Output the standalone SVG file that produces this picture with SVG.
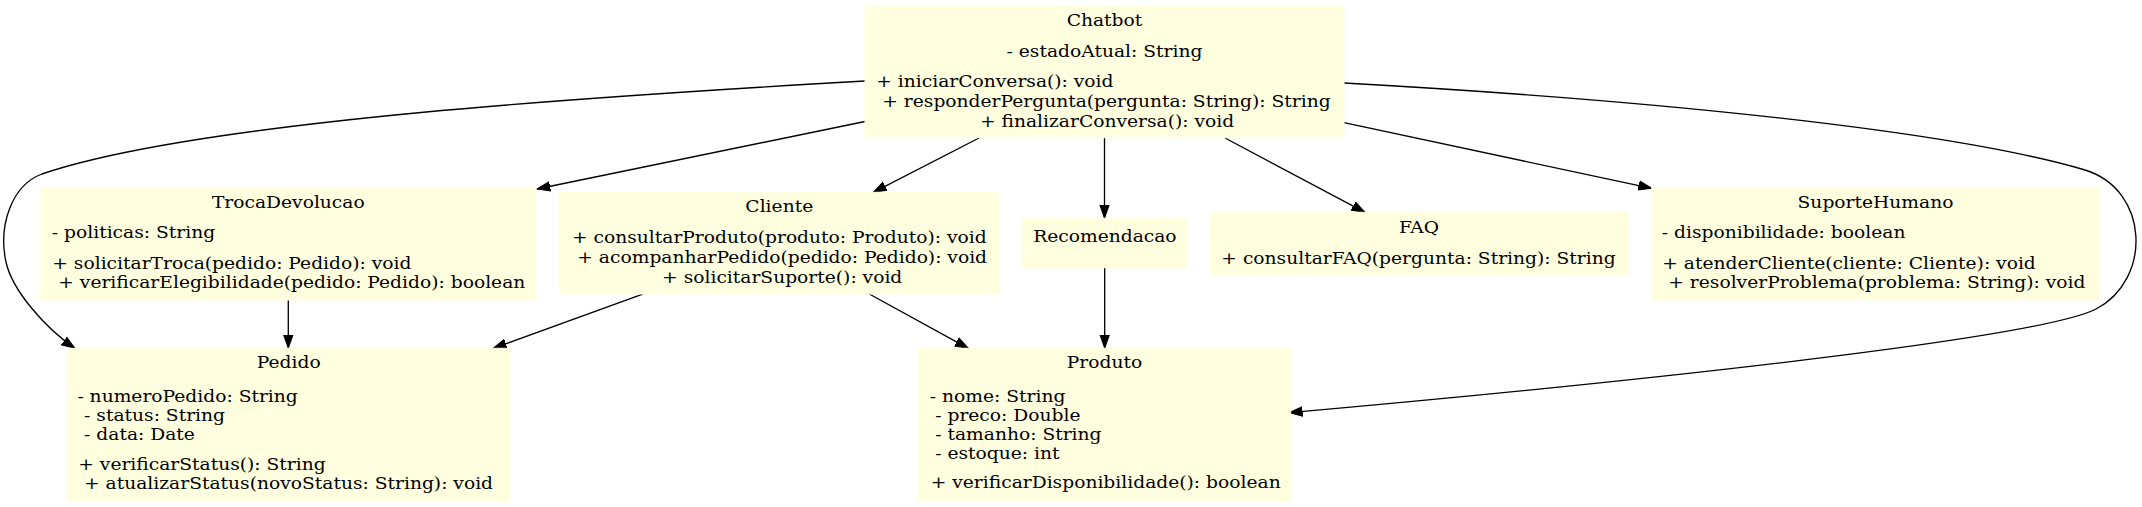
<svg xmlns="http://www.w3.org/2000/svg" width="2142" height="507" viewBox="0 0 2142 507">
<style>
.box{fill:#ffffe0;stroke:#ffffe0;stroke-width:1}
text{font-family:"DejaVu Serif","Liberation Serif",serif;font-size:18.67px;fill:#000}
.c{text-anchor:middle}
.edge{fill:none;stroke:#000;stroke-width:1.33}
</style>
<defs>
<marker id="arr" markerUnits="userSpaceOnUse" markerWidth="16" markerHeight="12" refX="13.3" refY="0" viewBox="0 -6 16 12" orient="auto">
<path d="M0,-4.67 L13.3,0 L0,4.67 Z" fill="#000" stroke="#000" stroke-width="1"/>
</marker>
</defs>
<rect width="2142" height="507" fill="#fff"/>
<g id="connectors">
<path class="edge" marker-end="url(#arr)" d="M865,81 C620,95 200,120 42,174 C12,185 -2,225 6,262 C12,290 45,328 75,348.3"/>
<path class="edge" marker-end="url(#arr)" d="M865,121.5 L537,189"/>
<path class="edge" marker-end="url(#arr)" d="M979,138 L873.3,192.3"/>
<path class="edge" marker-end="url(#arr)" d="M1104.5,138 L1104.5,218.3"/>
<path class="edge" marker-end="url(#arr)" d="M1225,138 L1365,212.3"/>
<path class="edge" marker-end="url(#arr)" d="M1344,122.7 L1651.7,188.3"/>
<path class="edge" marker-end="url(#arr)" d="M1344,83 C1650,100 1950,130 2085,170 C2150,190 2152,280 2096,309 C2036,340 1600,385 1289.3,412.7"/>
<path class="edge" marker-end="url(#arr)" d="M288.3,300 L288.3,348.3"/>
<path class="edge" marker-end="url(#arr)" d="M642.7,294 L493.3,348.3"/>
<path class="edge" marker-end="url(#arr)" d="M869.3,294 L968.3,348.3"/>
<path class="edge" marker-end="url(#arr)" d="M1104.7,267.7 L1104.7,348.3"/>
</g>
<g id="Chatbot">
<rect class="box" x="865" y="6" width="479" height="131.7"/>
<g transform="scale(1,0.86)">
<text class="c" x="1104.5" y="30.23">Chatbot</text>
<text class="c" x="1104.5" y="66.63">- estadoAtual: String</text>
<text x="876.3" y="101.5">+ iniciarConversa(): void</text>
<text x="882.3" y="124.65">+ responderPergunta(pergunta: String): String</text>
<text class="c" x="1107" y="147.7">+ finalizarConversa(): void</text>
</g>
</g>
<g id="TrocaDevolucao">
<rect class="box" x="40.7" y="187.3" width="495.3" height="112.7"/>
<g transform="scale(1,0.86)">
<text class="c" x="288.3" y="241.51">TrocaDevolucao</text>
<text x="51.8" y="277.09">- politicas: String</text>
<text x="52.3" y="313.14">+ solicitarTroca(pedido: Pedido): void</text>
<text x="58.3" y="335.47">+ verificarElegibilidade(pedido: Pedido): boolean</text>
</g>
</g>
<g id="Cliente">
<rect class="box" x="559.3" y="192.3" width="440" height="101.7"/>
<g transform="scale(1,0.86)">
<text class="c" x="779.3" y="246.86">Cliente</text>
<text class="c" x="779.3" y="282.91">+ consultarProduto(produto: Produto): void</text>
<text class="c" x="782.2" y="306.16">+ acompanharPedido(pedido: Pedido): void</text>
<text class="c" x="782.2" y="329.42">+ solicitarSuporte(): void</text>
</g>
</g>
<g id="Recomendacao">
<rect class="box" x="1022.2" y="218.3" width="165.4" height="49.4"/>
<g transform="scale(1,0.86)">
<text class="c" x="1104.9" y="281.05">Recomendacao</text>
</g>
</g>
<g id="FAQ">
<rect class="box" x="1210" y="212.3" width="418" height="62"/>
<g transform="scale(1,0.86)">
<text class="c" x="1419" y="271.28">FAQ</text>
<text class="c" x="1418.5" y="307.33">+ consultarFAQ(pergunta: String): String</text>
</g>
</g>
<g id="SuporteHumano">
<rect class="box" x="1651.7" y="187.3" width="447.6" height="112.7"/>
<g transform="scale(1,0.86)">
<text class="c" x="1875.5" y="241.51">SuporteHumano</text>
<text x="1661.8" y="277.09">- disponibilidade: boolean</text>
<text x="1662.3" y="313.14">+ atenderCliente(cliente: Cliente): void</text>
<text x="1668.3" y="335.47">+ resolverProblema(problema: String): void</text>
</g>
</g>
<g id="Pedido">
<rect class="box" x="67.3" y="348.3" width="442.7" height="153.4"/>
<g transform="scale(1,0.86)">
<text class="c" x="288.7" y="428.26">Pedido</text>
<text x="77.4" y="467.09">- numeroPedido: String</text>
<text x="84.1" y="489.53">- status: String</text>
<text x="84.1" y="511.63">- data: Date</text>
<text x="78.3" y="546.51">+ verificarStatus(): String</text>
<text x="84" y="568.6">+ atualizarStatus(novoStatus: String): void</text>
</g>
</g>
<g id="Produto">
<rect class="box" x="918.3" y="348.3" width="372.4" height="153.4"/>
<g transform="scale(1,0.86)">
<text class="c" x="1104.5" y="428.26">Produto</text>
<text x="929.8" y="467.09">- nome: String</text>
<text x="935.2" y="489.19">- preco: Double</text>
<text x="935.2" y="511.63">- tamanho: String</text>
<text x="935.2" y="533.72">- estoque: int</text>
<text x="930.7" y="567.79">+ verificarDisponibilidade(): boolean</text>
</g>
</g>
</svg>
